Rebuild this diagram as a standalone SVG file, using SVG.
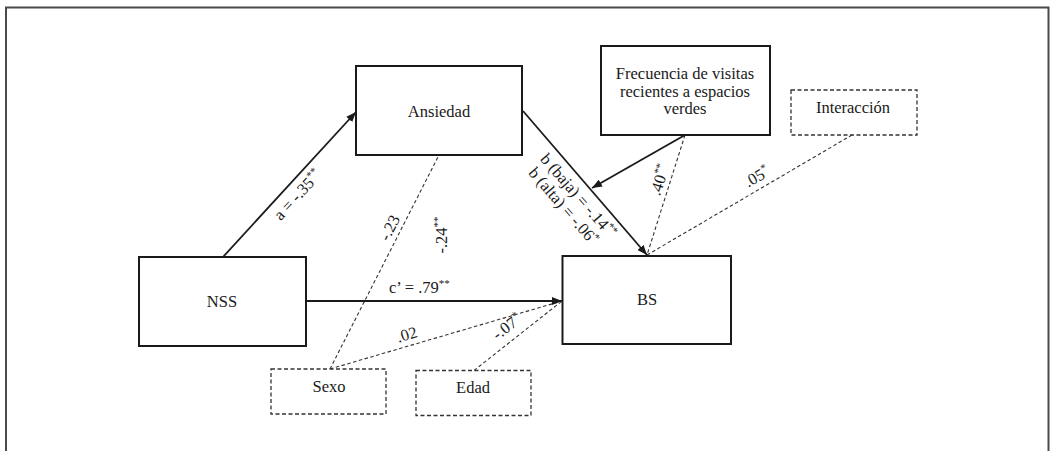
<svg xmlns="http://www.w3.org/2000/svg" width="1050" height="451" viewBox="0 0 1050 451">
  <style>
    text { font-family: "Liberation Serif", "Times New Roman", serif; font-size: 16.5px; fill: #1a1a1a; }
    .mid { text-anchor: middle; }
    .sup { font-size: 11px; }
    .box { fill: #ffffff; stroke: #1a1a1a; stroke-width: 2; }
    .dbox { fill: #ffffff; stroke: #333333; stroke-width: 1.3; stroke-dasharray: 4 2.5; }
    .path { fill: none; stroke: #1a1a1a; stroke-width: 1.8; }
    .dpath { fill: none; stroke: #333333; stroke-width: 1.1; stroke-dasharray: 3.5 2.5; }
  </style>
  <defs>
    <marker id="arrow" markerUnits="userSpaceOnUse" markerWidth="10" markerHeight="8" refX="10" refY="4" orient="auto">
      <path d="M0,0 L10,4 L0,8 z" fill="#1a1a1a"/>
    </marker>
  </defs>

  <rect width="1050" height="451" fill="#ffffff"/>
  <!-- outer frame -->
  <path d="M6,451 V7.5 H1048.5 V451" fill="none" stroke="#4a4a4a" stroke-width="2"/>

  <!-- connectors -->
  <g id="connectors">
    <line class="dpath" x1="330" y1="369" x2="439" y2="155"/>
    <line class="dpath" x1="330" y1="369" x2="562" y2="301"/>
    <line class="dpath" x1="474" y1="370.5" x2="562" y2="301"/>
    <line class="dpath" x1="685" y1="135" x2="647" y2="255"/>
    <line class="dpath" x1="852" y1="135" x2="647" y2="255"/>

    <line class="path" x1="223" y1="257" x2="356" y2="112" marker-end="url(#arrow)"/>
    <line class="path" x1="306" y1="301" x2="562" y2="301" marker-end="url(#arrow)"/>
    <line class="path" x1="523" y1="111" x2="647" y2="255" marker-end="url(#arrow)"/>
    <line class="path" x1="685" y1="135" x2="592" y2="188" marker-end="url(#arrow)"/>

    <text class="mid" transform="translate(298,195) rotate(-47.5)" y="5">a = -.35<tspan class="sup" dy="-6">**</tspan></text>
    <text class="mid" transform="translate(390,228) rotate(-63)" y="5">-.23</text>
    <text class="mid" transform="translate(442,235) rotate(-90)" y="5">-.24<tspan class="sup" dy="-6">**</tspan></text>
    <text x="389" y="293">c’ = .79<tspan class="sup" dy="-6">**</tspan></text>
    <text class="mid" transform="translate(407,335) rotate(-17)" y="5">.02</text>
    <text class="mid" transform="translate(507,327) rotate(-37)" y="5">-.07<tspan class="sup" dy="-6">*</tspan></text>
    <text class="mid" transform="translate(660,180) rotate(-72)" y="5">.40<tspan class="sup" dy="-6">**</tspan></text>
    <text class="mid" transform="translate(757,177) rotate(-30)" y="5">.05<tspan class="sup" dy="-6">*</tspan></text>
    <g transform="translate(578,196) rotate(49)">
      <text class="mid" y="5">b (baja) = -.14<tspan class="sup" dy="-6">**</tspan></text>
      <text class="mid" x="-2" y="23">b (alta) = -.06<tspan class="sup" dy="-6">*</tspan></text>
    </g>
  </g>

  <!-- nodes -->
  <g id="ansiedad">
    <rect class="box" x="356" y="66" width="166" height="89"/>
    <text class="mid" x="439" y="117">Ansiedad</text>
  </g>
  <g id="nss">
    <rect class="box" x="139" y="257" width="167" height="89"/>
    <text class="mid" x="222" y="307">NSS</text>
  </g>
  <g id="bs">
    <rect class="box" x="562.5" y="256" width="168.5" height="88"/>
    <text class="mid" x="647" y="305">BS</text>
  </g>
  <g id="frecuencia">
    <rect class="box" x="601" y="46" width="169" height="89"/>
    <text class="mid" x="685" y="79">Frecuencia de visitas</text>
    <text class="mid" x="685" y="96.5">recientes a espacios</text>
    <text class="mid" x="685" y="114">verdes</text>
  </g>
  <g id="interaccion">
    <rect class="dbox" x="791" y="90" width="126" height="45"/>
    <text class="mid" x="853" y="112.5">Interacción</text>
  </g>
  <g id="sexo">
    <rect class="dbox" x="271" y="369" width="115" height="45"/>
    <text class="mid" x="329" y="391.5">Sexo</text>
  </g>
  <g id="edad">
    <rect class="dbox" x="416" y="370.5" width="115" height="45"/>
    <text class="mid" x="473" y="392.5">Edad</text>
  </g>
</svg>
